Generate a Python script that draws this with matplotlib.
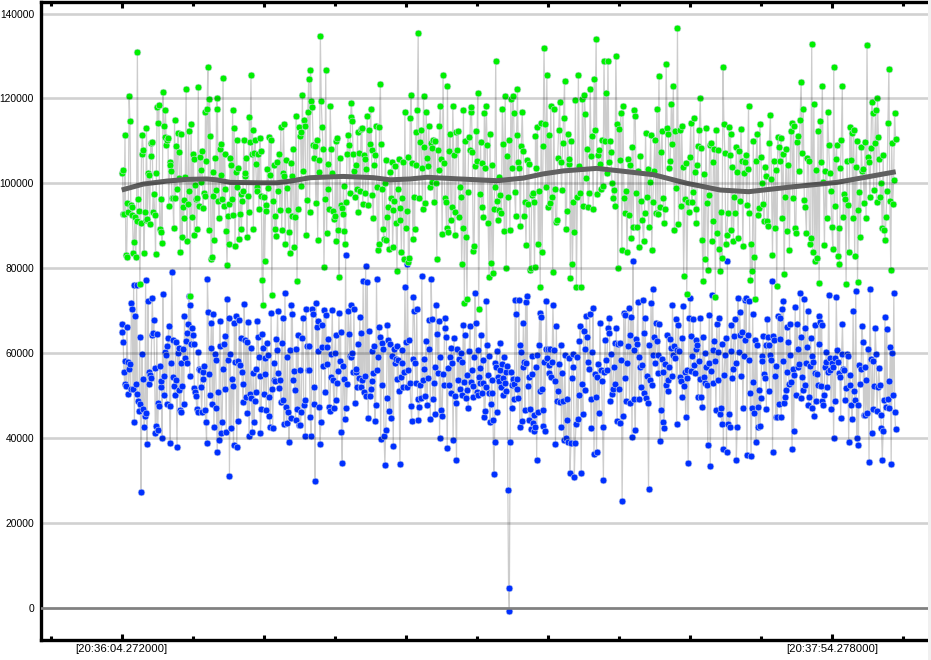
#!/usr/bin/env python3
"""Two sampled series with a moving average, read off the reference picture."""

import matplotlib
matplotlib.use("Agg")
import matplotlib.pyplot as plt
from matplotlib.patches import Rectangle
import numpy as np

# seconds between two ticks on the time axis
TICK_STEP = 11.0006
# the data stops part way through the last tick interval
SECTION_EDGES = [0, 1, 2, 3, 4, 5, 6, 7, 8, 9, 10, 10.91]

# samples per tick interval, in hundreds
green_00 = [1024,1031,927,927,1114,831,825,953,933,1206,1146,949,924,944,835,861,921,825,911,1310,962,934,762,907,1068,1114,1079,835,933,914,1129,915,1024,1019,904,1094,1064,1096,932,974,926,833,1024,1180,1143,1184,892,885,962,859,1214,1136,1108,1172,1089,1101,1106,947,1049,1042,1028,965,965,894,1148,965,1087,987,1118,1073,1012,837,1115,873,945,918,960,1014,1221,863,951,1122,981,734,1139,920]
green_01 = [1068,1056,878,995,962,892,965,1226,946,1061,1002,1031,1075,941,976,969,1167,1052,1174,1275,889,1198,1111,821,826,1026,969,866,1059,983,1200,1174,958,918,1080,1019,1092,962,1247,946,1068,986,887,807,922,857,951,1059,1042,962,1172,926,1129,852,1026,1101,991,1035,868,927,974,892,958,981,1103,1016,1024,1059,873,969,932,1155,1096,1256,1068,1125,892,1071,1101,1045,991,981,1068,939,1106,1075,969,771,713]
green_02 = [967,816,948,934,1033,988,1109,1019,1101,737,958,1042,892,922,875,1049,981,1068,936,1132,889,1024,1139,1016,857,1054,988,936,885,835,1047,922,1016,1080,849,920,1158,769,939,1133,1111,1120,993,1209,1028,1148,1134,878,960,1167,1245,932,1268,1193,1180,1089,1059,1087,953,1101,867,1054,1027,1348,1193,1132,1080,802,962,1266,882,1045,986,939,1183,1080,1024,934,915]
green_03 = [922,1099,864,1107,889,779,1059,948,941,927,993,887,857,955,1068,1114,1089,976,1155,1190,1146,1068,1028,967,1042,986,1120,932,1071,981,1127,1129,951,1066,1058,976,1033,1158,948,1125,1092,1176,1078,972,918,1042,1066,1136,991,842,857,1132,1235,1093,986,892,868,1000,1054,866,920,944,845,1026,965,1049,849,936,958,1040,906,794,986,1056,913,941,837,965,1049,821,1167]
green_04 = [894,934,1061,814,824,1153,1207,1047,868,967,892,1120,1042,1172,1353,965,1096,1125,1035,939,1205,1085,953,1169,1059,1040,1134,991,1094,1002,1082,1103,955,1099,1000,821,1078,1031,1134,1181,1056,880,1256,1047,965,955,894,1230,885,1075,1115,913,944,1183,1066,878,932,1120,1078,1122,920,991,967,809,894,1172,718,1099,873,727,979,1108,1078,1169,1179,1073,840,852,1040,1122]
green_05 = [1052,1212,704,974,1096,944,1047,920,1165,1035,1181,1089,906,779,1115,812,1042,788,939,991,1289,958,913,936,1014,972,929,1176,1092,887,1205,800,1064,967,1103,889,1198,1035,1205,1165,979,922,1113,1221,1049,1035,899,1087,1169,1075,922,955,854,1054,951,1045,795,800,972,976,955,802,1111,1035,1132,857,981,755,1143,838,1087,1318,1139,991,1254]
green_06 = [944,1113,953,1181,967,791,1174,986,908,913,1059,1125,1191,1049,984,1094,1153,1242,892,934,1115,1045,1056,777,1099,809,955,885,1195,755,967,1256,1040,976,755,1198,946,1209,1162,1012,1080,944,976,1221,1064,1111,939,1245,1125,1341,974,1066,1078,1045,986,1101,993,1287,1099,1212,1024,1289,1049,1099,1073,1000,965,984,946,1301,1139,800]
green_07 = [1127,1054,1165,842,1183,965,929,981,838,1056,925,1042,871,1085,897,1172,1158,976,897,1028,849,1064,958,913,864,929,1118,967,1033,897,1002,1113,842,955,1028,1103,929,1176,927,1252,944,1073,1122,965,906,939,1280,1129,1115,1035,1052,1186,1092,1230,890,1122,988,1365,904,1125,946,1134,1038,782,962,1047,739,955,932]
green_08 = [1061,1143,955,980,1153,1026,939,906,1042,1087,1125,1202,1082,866,770,1021,821,1129,953,795,972,1089,1094,864,910,1049,1080,732,1125,882,1078,846,793,932,824,1274,1139,1071,857,878,929,1132,1066,1115,889,1038,864,967,929,1085,1026,871,1075,958,1127,1052,852,1024,1049,1066,948,1033,1183,929,772,857,793,1099,826,727,1052,1115,924,941,1139]
green_09 = [1061,1000,951,910,1038,1016,910,899,1094,1160,1009,831,1052,894,1031,758,1108,1085,1052,1106,918,1068,786,967,1080,887,1042,842,1122,1143,965,1134,894,882,1096,1111,1028,1150,1238,1071,1174,960,944,882,1059,1052,857,871,1327,838,1186,817,1031,824,1122,765,1146,1049,1230,1004,854,1028,918,1169,1089,1024,981]
green_10 = [897,846,1275,946,1056,1089,829,894,809,1035,1103,1228,920,974,962,762,1052,948,838,1132,1054,1118,918,1125,829,1038,1099,767,936,979,873,1085,1028,1033,953,1096,918,1325,1061,1049,967,1082,1191,1165,984,1094,1172,955,1200,1108,1056,967,1000,894,1066,890,866,920,981,1141,1270,958,795,1094,951,1008,1165,1105]

blue_00 = [649,668,626,555,527,580,522,661,578,504,562,573,515,718,704,515,760,438,687,527,761,504,486,464,638,479,273,598,468,539,426,451,772,459,386,722,555,527,549,541,642,729,646,678,564,412,428,645,419,482,475,569,520,534,400,739,545,501,602,595,480,616,635,664,475,388,576,791,630,544,522,501,626,536,379,600,513,612,466,461,576,522,609,480,687,588,628,647,576,668,734,546,713,621,659]
blue_01 = [642,621,518,508,499,468,461,602,561,560,520,461,539,555,569,466,438,388,774,697,551,501,612,671,480,692,426,598,584,471,367,508,395,675,616,412,437,562,621,515,640,414,727,584,682,311,598,424,539,522,384,671,579,687,379,582,440,678,572,635,555,527,485,715,630,497,626,459,673,405,504,612,494,414,553,438,487,562,508,675,638,591,546,412,468,645,612]
blue_02 = [504,551,588,466,624,594,497,452,426,694,515,424,537,576,534,633,607,699,553,518,537,485,624,682,490,433,741,473,435,591,461,391,607,447,713,692,537,558,513,442,609,468,642,431,560,431,461,635,682,478,490,405,704,616,560,616,559,449,405,704,692,480,520,299,718,661,605,675,473,386,438,614,666,569,701,508,689,574,614,633,473,464,544,598,701,536,471]
blue_03 = [600,642,489,529,558,694,581,649,414,341,569,539,445,830,471,527,699,645,593,713,591,600,555,704,482,555,562,520,621,541,685,520,647,536,769,508,546,805,499,767,447,652,499,515,534,605,553,616,440,478,774,560,591,661,638,398,624,525,609,405,337,419,494,666,630,464,621,447,593,593,381,609,576,586,616,539,584,511,339,544,607,576,520,555,755]
blue_04 = [626,520,809,560,630,529,475,440,586,732,699,576,529,704,492,442,473,525,494,781,536,586,562,499,628,478,541,609,678,445,774,680,492,529,567,457,713,645,553,675,400,591,466,452,551,525,682,659,638,377,565,525,591,506,612,576,395,635,499,482,348,609,536,586,515,600,579,501,666,532,642,494,548,513,471,605,664,532,560,522,497,591,741,671]
blue_05 = [508,501,607,544,529,565,642,506,529,584,449,462,520,722,619,548,593,506,438,480,536,506,443,315,391,576,567,605,461,544,534,624,560,520,575,540,500,590,530,555,510,570,278,47,-9,391,555,471,525,539,527,492,724,692,515,539,494,724,426,619,602,440,567,671,579,466,720,576,734,522,544,442,468,421,551,593,435,417,454,426,567,348,595,461,619,694,511,685,515,466,428,579,417,609,722,588]
blue_06 = [609,553,572,609,544,579,713,607,534,386,664,487,511,574,485,619,426,553,487,395,595,400,442,492,391,588,318,388,541,598,567,308,388,433,591,445,501,628,664,318,527,457,651,513,609,687,638,579,562,692,492,424,602,706,362,551,497,367,544,574,459,671,560,534,426,301,555,630,584,560,659,647,682,487,598,504,515,567,624,527,659,440,621]
blue_07 = [515,624,435,584,252,452,694,541,689,487,576,616,706,482,642,685,402,816,607,492,419,633,621,720,492,591,567,520,572,724,647,506,682,494,546,482,280,619,536,718,525,751,595,638,576,671,628,595,553,668,393,466,586,555,438,424,574,525,642,536,511,567,633,612,546,713,595,616,588,680,433,607,666,605,544,534,635,497,711,522,555,449,541,560,341,682]
blue_08 = [729,558,640,593,680,572,553,630,609,619,497,581,539,682,497,473,638,544,600,529,567,525,384,576,689,334,558,736,607,529,628,581,466,668,602,536,682,457,471,433,621,374,548,595,635,367,816,433,457,426,605,666,541,562,640,680,576,348,426,729,602,697,642,546,649,471,593,724,630,729,360,642,584,722,506,358,471,692,532,459,630,391,619,473,426,513,428]
blue_09 = [494,593,581,640,551,541,619,468,680,638,619,511,595,584,769,367,640,630,546,449,569,449,687,480,682,633,449,704,581,722,482,497,513,661,555,626,527,668,595,532,374,562,417,548,708,501,668,609,567,574,741,494,638,544,513,727,525,659,576,614,699,478,497,569,635,471,593,579,452,666,553,487,551,525,687,621,673,522,666,487,478,501,567,579,602,520,555,736,560,588,468]
blue_10 = [576,567,400,588,487,732,607,579,553,544,447,598,668,562,560,489,518,598,593,391,548,525,478,445,699,511,489,746,400,478,384,572,527,562,664,626,454,567,454,536,459,609,344,751,586,412,581,468,522,659,598,464,520,565,525,454,424,348,417,489,685,473,657,492,534,471,614,339,600,501,741,461,421]

green_sections = [green_00, green_01, green_02, green_03, green_04, green_05,
                  green_06, green_07, green_08, green_09, green_10]
blue_sections = [blue_00, blue_01, blue_02, blue_03, blue_04, blue_05,
                 blue_06, blue_07, blue_08, blue_09, blue_10]

# moving average of the green series
avg_time = [0, 3.35, 6.97, 10.07, 13.17, 14.7, 16.8, 21.4, 24.0, 26.1, 29.2, 34.3, 39.0, 41.6, 44.7, 47.3, 52.4, 58.1, 62.2, 65.3, 68.4, 73.6, 77.2, 82.4, 87.5, 92.7, 97.1, 103.0, 110.8, 119.9]
avg_value = [984, 998, 1005, 1009, 1010, 1008, 1002, 1001, 1001, 1005, 1013, 1016, 1013, 1008, 1010, 1014, 1010, 1006, 1012, 1022, 1029, 1035, 1029, 1020, 1000, 984, 980, 990, 1002, 1027]

y_ticks = [0, 20000, 40000, 60000, 80000, 100000, 120000, 140000]
x_label_left = "[20:36:04.272000]"
x_label_right = "[20:37:54.278000]"


def section_series(sections):
    times = []
    values = []
    for i, section in enumerate(sections):
        start = SECTION_EDGES[i] * TICK_STEP
        stop = SECTION_EDGES[i + 1] * TICK_STEP
        times.append(np.linspace(start, stop, len(section), endpoint=False))
        values.append(np.array(section) * 100.0)
    return np.concatenate(times), np.concatenate(values)


def style_ticks(ax):
    # tick strength alternates; the two labelled ticks are black
    positions = [TICK_STEP * i for i in range(-1, 12)]
    ax.set_xticks(positions)
    labels = [""] * len(positions)
    labels[1] = x_label_left
    labels[11] = x_label_right
    ax.set_xticklabels(labels)
    ax.tick_params(axis="x", top=True, bottom=True, direction="in", pad=3,
                   labelsize=8.2)
    for i, tick in enumerate(ax.xaxis.get_major_ticks()):
        if i in (1, 11):
            color, length = "black", 4.4
        elif i % 2 == 1:
            color, length = "#808080", 3.7
        else:
            color, length = "#b4b4b4", 3.0
        for mark in (tick.tick1line, tick.tick2line):
            mark.set_color(color)
            mark.set_markersize(length)
            mark.set_markeredgewidth(2.2)

    ax.set_yticks(y_ticks)
    ax.tick_params(axis="y", left=False, length=0, pad=5, labelsize=7.4)


def main():
    plt.rcParams["font.family"] = ["Liberation Sans", "DejaVu Sans"]

    fig = plt.figure(figsize=(9.31, 6.60), dpi=100)
    ax = fig.add_axes([41 / 931, 1 - 640 / 660, 887 / 931, 638.5 / 660])

    blue_t, blue_y = section_series(blue_sections)
    green_t, green_y = section_series(green_sections)

    for t, y, color in ((blue_t, blue_y, "#0030ff"), (green_t, green_y, "#00f000")):
        ax.plot(t, y, color="#cccccc", linewidth=0.9, zorder=1.5)
        ax.plot(t, y, linestyle="none", marker="o", markersize=4.9,
                markerfacecolor=color, markeredgecolor="#d0d8e8",
                markeredgewidth=0.4, zorder=2)

    ax.plot(avg_time, np.array(avg_value) * 100.0, color="#606060", linewidth=3.6,
            solid_capstyle="butt", zorder=2.2)

    ax.set_xlim(-12.5, 124.9)
    ax.set_ylim(-7660, 142830)
    style_ticks(ax)

    ax.yaxis.grid(True, color="black", alpha=0.18, linewidth=1.9, zorder=3)
    ax.set_axisbelow(False)
    ax.axhline(0, color="#808080", linewidth=1.9, zorder=3)

    for side in ("left", "bottom", "top"):
        ax.spines[side].set_linewidth(2.4)
    ax.spines["right"].set_visible(False)

    fig.add_artist(Rectangle((928 / 931, 0), 3 / 931, 1, transform=fig.transFigure,
                             facecolor="#f0f0f0", edgecolor="none"))

    fig.savefig("out.png", dpi=100)


if __name__ == "__main__":
    main()
